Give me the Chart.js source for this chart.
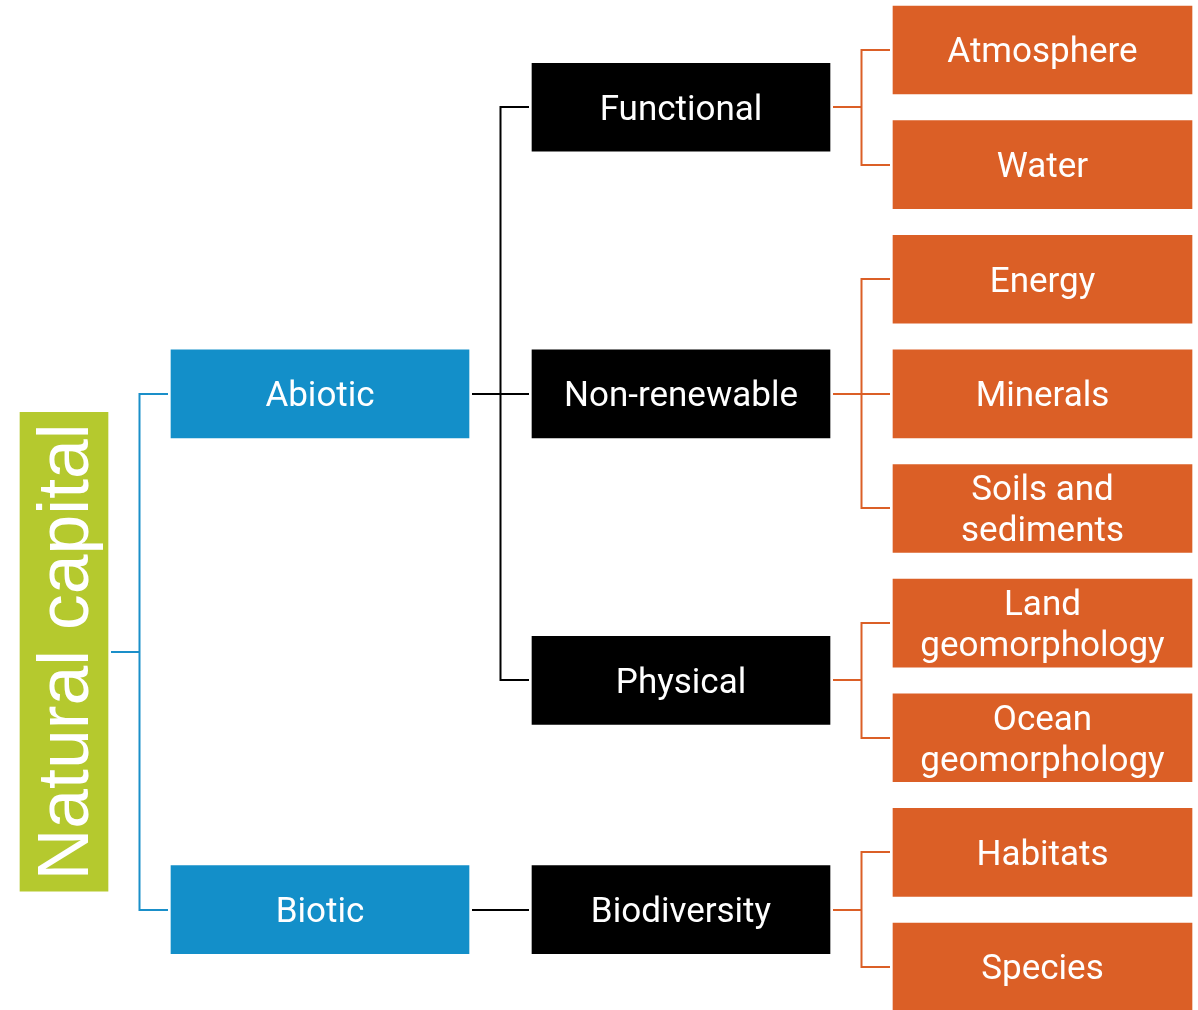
<!DOCTYPE html>
<html>
<head>
<meta charset="utf-8">
<script src="https://cdn.jsdelivr.net/npm/chart.js@4/dist/chart.umd.min.js"></script>
<style>
  html, body { margin: 0; padding: 0; background: #fff; }
  canvas { display: block; }
</style>
</head>
<body>
<canvas id="tree" width="1198" height="1010"></canvas>
<script>
// tree data
const rootLabel = 'Natural capital';
const level1 = ['Abiotic', 'Biotic'];
const level2 = ['Functional', 'Non-renewable', 'Physical', 'Biodiversity'];
const level2Parent = [0, 0, 0, 1];
const level3 = ['Atmosphere', 'Water', 'Energy', 'Minerals', ['Soils and', 'sediments'],
    ['Land', 'geomorphology'], ['Ocean', 'geomorphology'], 'Habitats', 'Species'];
const level3Parent = [0, 0, 1, 1, 1, 2, 2, 3, 3];

// column extents (x pixels) and colours per level
const cols = [[20, 108], [171, 469], [532, 830], [893, 1192]];
const fills = ['#b5c92e', '#138fc9', '#000000', '#db5f26'];
const linkColours = ['#1a8fc9', '#000000', '#db5f26'];

// leaves sit in rows 0..n-1, every parent is centred on its children
const slot3 = level3.map((_, i) => i);
function centre(parents, childSlots, n) {
    const out = [];
    for (let p = 0; p < n; p++) {
        const s = childSlots.filter((_, i) => parents[i] === p);
        out.push((Math.min(...s) + Math.max(...s)) / 2);
    }
    return out;
}
const slot2 = centre(level3Parent, slot3, level2.length);
const slot1 = centre(level2Parent, slot2, level1.length);
const slot0 = (Math.min(...slot1) + Math.max(...slot1)) / 2;

const levels = [
    { labels: [rootLabel], slots: [slot0], parents: null },
    { labels: level1, slots: slot1, parents: [0, 0] },
    { labels: level2, slots: slot2, parents: level2Parent },
    { labels: level3, slots: slot3, parents: level3Parent }
];

const ctx = document.getElementById('tree').getContext('2d');

const treePlugin = {
    id: 'tree',
    beforeDatasetsDraw(chart) {
        const c = chart.ctx;
        const y = v => chart.scales.y.getPixelForValue(v);
        c.save();
        c.lineWidth = 2;
        for (let l = 1; l < levels.length; l++) {
            const lv = levels[l];
            const up = levels[l - 1];
            const x0 = cols[l - 1][1] + 3;
            const x1 = cols[l][0] - 3;
            const xm = Math.round((x0 + x1) / 2) - 0.5;
            c.strokeStyle = linkColours[l - 1];
            up.slots.forEach((ps, p) => {
                const kids = lv.slots.filter((_, i) => lv.parents[i] === p);
                const py = Math.round(y(ps));
                c.beginPath();
                c.moveTo(x0, py);
                c.lineTo(xm, py);
                c.stroke();
                const ys = kids.map(k => Math.round(y(k)));
                c.beginPath();
                c.moveTo(xm, Math.min(...ys) - 1);
                c.lineTo(xm, Math.max(...ys) + 1);
                c.stroke();
                ys.forEach(ky => {
                    c.beginPath();
                    c.moveTo(xm, ky);
                    c.lineTo(x1, ky);
                    c.stroke();
                });
            });
        }
        c.restore();
    },
    afterDatasetsDraw(chart) {
        const c = chart.ctx;
        c.save();
        c.fillStyle = '#ffffff';
        c.textAlign = 'center';
        c.textBaseline = 'alphabetic';
        chart.data.datasets.forEach((ds, d) => {
            const meta = chart.getDatasetMeta(d);
            meta.data.forEach((el, i) => {
                const cx = (el.x + el.base) / 2;
                const cy = el.y;
                const label = levels[d].labels[i];
                if (d === 0) {
                    c.save();
                    c.translate(cx, cy);
                    c.rotate(-Math.PI / 2);
                    c.font = '71.5px "Liberation Sans", Arial, sans-serif';
                    c.fillText(label, 0, 24);
                    c.restore();
                    return;
                }
                c.font = '35px Roboto, "Noto Sans", sans-serif';
                const lines = Array.isArray(label) ? label : [label];
                const lh = 41;
                lines.forEach((t, k) => {
                    const ly = cy + (k - (lines.length - 1) / 2) * lh;
                    c.fillText(t, cx, ly + 12.4);
                });
            });
        });
        c.restore();
    }
};

new Chart(ctx, {
    type: 'bar',
    data: {
        datasets: levels.map((lv, l) => ({
            data: lv.slots.map(s => ({ x: cols[l], y: s })),
            backgroundColor: fills[l],
            borderWidth: 0,
            barThickness: l === 0 ? 479 : 88,
            grouped: false
        }))
    },
    options: {
        indexAxis: 'y',
        responsive: false,
        animation: false,
        events: [],
        layout: { padding: 0 },
        plugins: {
            legend: { display: false },
            tooltip: { enabled: false }
        },
        scales: {
            x: { type: 'linear', min: 0, max: 1198, display: false },
            y: { type: 'linear', min: -0.436, max: 8.375, reverse: true, offset: false, display: false }
        }
    },
    plugins: [treePlugin]
});
</script>
</body>
</html>
